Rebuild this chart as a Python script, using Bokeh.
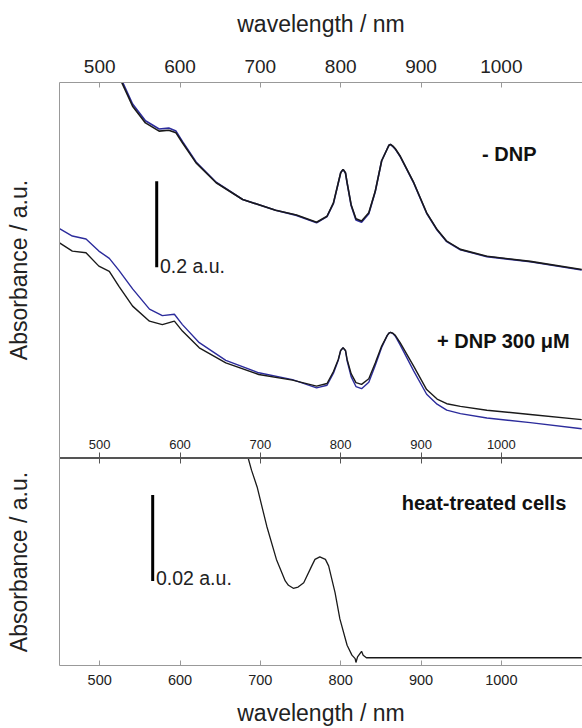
from bokeh.plotting import figure
from bokeh.layouts import column
from bokeh.models import Range1d, LinearAxis, FixedTicker, Label
from bokeh.embed import file_html
from bokeh.resources import INLINE

FONT = "Liberation Sans"

# ---------------- data ----------------
x_ticks = [500, 600, 700, 800, 900, 1000]

# top panel: "- DNP" spectra (offset absorbance, a.u.)
wl_minus = [510, 527, 541, 557, 574, 586, 595, 603, 620, 645, 678, 719, 745, 770, 783,
            791, 797, 800, 803, 806, 808, 813, 819, 826, 835, 843, 851, 858, 860, 862, 865,
            868, 874, 891, 907, 920, 932, 949, 982, 1036, 1100]
minus_black = [0.930, 0.874, 0.817, 0.778, 0.759, 0.761, 0.755, 0.732, 0.685, 0.639, 0.600,
               0.575, 0.564, 0.547, 0.561, 0.592, 0.639, 0.662, 0.670, 0.662, 0.639, 0.588,
               0.555, 0.550, 0.569, 0.619, 0.690, 0.718, 0.726, 0.728, 0.724, 0.718, 0.701,
               0.639, 0.569, 0.530, 0.503, 0.484, 0.468, 0.456, 0.437]
minus_blue = [0.935, 0.879, 0.822, 0.783, 0.764, 0.766, 0.759, 0.735, 0.687, 0.640, 0.600,
              0.575, 0.563, 0.546, 0.560, 0.591, 0.638, 0.662, 0.670, 0.661, 0.638, 0.586,
              0.552, 0.547, 0.567, 0.618, 0.690, 0.718, 0.726, 0.728, 0.723, 0.717, 0.700,
              0.638, 0.568, 0.529, 0.502, 0.483, 0.467, 0.455, 0.436]

# top panel: "+ DNP 300 uM" spectra
wl_plus = [450, 466, 483, 499, 512, 524, 541, 562, 578, 593, 603, 624, 657, 698, 740, 770,
           783, 791, 797, 800, 803, 806, 808, 813, 819, 826, 835, 843, 851, 858, 860, 862,
           865, 868, 874, 891, 907, 920, 932, 949, 982, 1036, 1100]
plus_black = [0.499, 0.480, 0.476, 0.445, 0.433, 0.398, 0.352, 0.317, 0.309, 0.317, 0.294,
              0.255, 0.220, 0.193, 0.180, 0.166, 0.172, 0.200, 0.228, 0.249, 0.255, 0.249,
              0.228, 0.195, 0.174, 0.170, 0.183, 0.220, 0.259, 0.284, 0.289, 0.291, 0.289,
              0.284, 0.267, 0.212, 0.158, 0.136, 0.125, 0.119, 0.110, 0.100, 0.088]
plus_blue = [0.532, 0.515, 0.508, 0.480, 0.463, 0.435, 0.392, 0.345, 0.330, 0.333, 0.309,
             0.267, 0.226, 0.197, 0.181, 0.162, 0.168, 0.196, 0.226, 0.249, 0.255, 0.248,
             0.225, 0.188, 0.165, 0.160, 0.175, 0.214, 0.256, 0.284, 0.289, 0.291, 0.288,
             0.282, 0.262, 0.201, 0.147, 0.124, 0.110, 0.102, 0.092, 0.081, 0.067]

# bottom panel: heat-treated cells
wl_heat = [670, 685, 689, 696, 708, 720, 731, 735, 741, 747, 754, 764, 768, 774, 781, 785,
           793, 799, 808, 814, 818, 819, 821, 826, 828, 832, 1100]
heat = [0.0560, 0.0480, 0.0453, 0.0414, 0.0323, 0.0246, 0.0196, 0.0186, 0.0179, 0.0182,
        0.0192, 0.0231, 0.0246, 0.0252, 0.0246, 0.0231, 0.0169, 0.0108, 0.0047, 0.0024,
        0.0016, 0.0007, 0.0020, 0.0033, 0.0024, 0.0018, 0.0018]

# scale bars (wavelength position, from, to)
bar_top = [571, 0.4423, 0.6426]
bar_bottom = [566, 0.01961, 0.03954]

BLACK = "#1a1a1a"
BLUE = "#2c2c9c"
FRAME = "#999999"
MID = "#555555"
TXT = "#222222"

x_range = Range1d(450, 1101)


def style_y(ax):
    ax.ticker = FixedTicker(ticks=[])
    ax.major_tick_in = 0
    ax.major_tick_out = 0
    ax.minor_tick_in = 0
    ax.minor_tick_out = 0
    ax.axis_line_color = FRAME
    ax.axis_line_width = 1
    ax.axis_label = "Absorbance / a.u."
    ax.axis_label_text_font = FONT
    ax.axis_label_text_font_size = "23px"
    ax.axis_label_text_font_style = "normal"
    ax.axis_label_text_color = TXT
    ax.axis_label_standoff = 28


def style_x(ax, size, color):
    ax.ticker = FixedTicker(ticks=x_ticks)
    ax.minor_tick_in = 0
    ax.minor_tick_out = 0
    ax.axis_line_color = color
    ax.major_tick_line_color = color
    ax.major_label_text_font = FONT
    ax.major_label_text_font_size = size
    ax.major_label_text_color = TXT


def style_title(ax, standoff):
    ax.axis_label = "wavelength / nm"
    ax.axis_label_text_font = FONT
    ax.axis_label_text_font_size = "23px"
    ax.axis_label_text_font_style = "normal"
    ax.axis_label_text_color = TXT
    ax.axis_label_standoff = standoff


# ---------------- top panel ----------------
top = figure(width=582, height=458, x_range=x_range, y_range=Range1d(0, 0.872),
             output_backend="svg", toolbar_location=None, x_axis_location="above",
             min_border_left=59, min_border_right=0, min_border_top=82, min_border_bottom=1)
top.grid.visible = False
top.outline_line_color = None
style_y(top.yaxis[0])

ax_above = top.above[0]
style_x(ax_above, "19px", FRAME)
ax_above.major_tick_in = 5
ax_above.major_tick_out = 0
ax_above.major_label_standoff = 10
style_title(ax_above, 20)

mid = LinearAxis()
style_x(mid, "13px", MID)
mid.major_tick_in = 5
mid.major_tick_out = 0
mid.major_label_standoff = -18
top.add_layout(mid, "below")

top.line(wl_minus, minus_blue, color=BLUE, line_width=1.6)
top.line(wl_minus, minus_black, color=BLACK, line_width=1.6)
top.line(wl_plus, plus_blue, color=BLUE, line_width=1.4)
top.line(wl_plus, plus_black, color=BLACK, line_width=1.4)
top.segment(x0=[bar_top[0]], y0=[bar_top[1]], x1=[bar_top[0]], y1=[bar_top[2]],
            color="black", line_width=3)
top.add_layout(Label(x=575, y=0.446, text="0.2 a.u.", text_font=FONT,
                     text_font_size="19.5px", text_color=TXT, text_baseline="alphabetic"))
top.add_layout(Label(x=976, y=0.705, text="- DNP", text_font=FONT, text_font_size="20px",
                     text_font_style="bold", text_color="#111111", text_baseline="middle"))
top.add_layout(Label(x=920, y=0.270, text="+ DNP 300 \u03bcM", text_font=FONT,
                     text_font_size="20px", text_font_style="bold", text_color="#111111",
                     text_baseline="middle"))

# ---------------- bottom panel ----------------
bot = figure(width=582, height=270, x_range=x_range, y_range=Range1d(0, 0.048),
             output_backend="svg", toolbar_location=None,
             min_border_left=59, min_border_right=0, min_border_top=0, min_border_bottom=61)
bot.grid.visible = False
bot.outline_line_color = None
style_y(bot.yaxis[0])

ax_below = bot.below[0]
style_x(ax_below, "14.5px", FRAME)
ax_below.major_tick_in = 5
ax_below.major_tick_out = 0
ax_below.major_label_standoff = 9
style_title(ax_below, 12)

# divider ticks pointing down into the lower panel (minor ticks carry no labels)
mid2 = LinearAxis(ticker=FixedTicker(ticks=[], minor_ticks=x_ticks))
mid2.major_tick_in = 0
mid2.major_tick_out = 0
mid2.minor_tick_in = 5
mid2.minor_tick_out = 0
mid2.minor_tick_line_color = MID
mid2.axis_line_color = MID
bot.add_layout(mid2, "above")

bot.line(wl_heat, heat, color=BLACK, line_width=1.3)
bot.segment(x0=[bar_bottom[0]], y0=[bar_bottom[1]], x1=[bar_bottom[0]], y1=[bar_bottom[2]],
            color="black", line_width=3)
bot.add_layout(Label(x=570, y=0.0204, text="0.02 a.u.", text_font=FONT,
                     text_font_size="19.5px", text_color=TXT, text_baseline="alphabetic"))
bot.add_layout(Label(x=876, y=0.0377, text="heat-treated cells", text_font=FONT,
                     text_font_size="20px", text_font_style="bold", text_color="#111111",
                     text_baseline="middle"))

p = column(top, bot, spacing=0)
open("out.html", "w").write(file_html(p, INLINE))
